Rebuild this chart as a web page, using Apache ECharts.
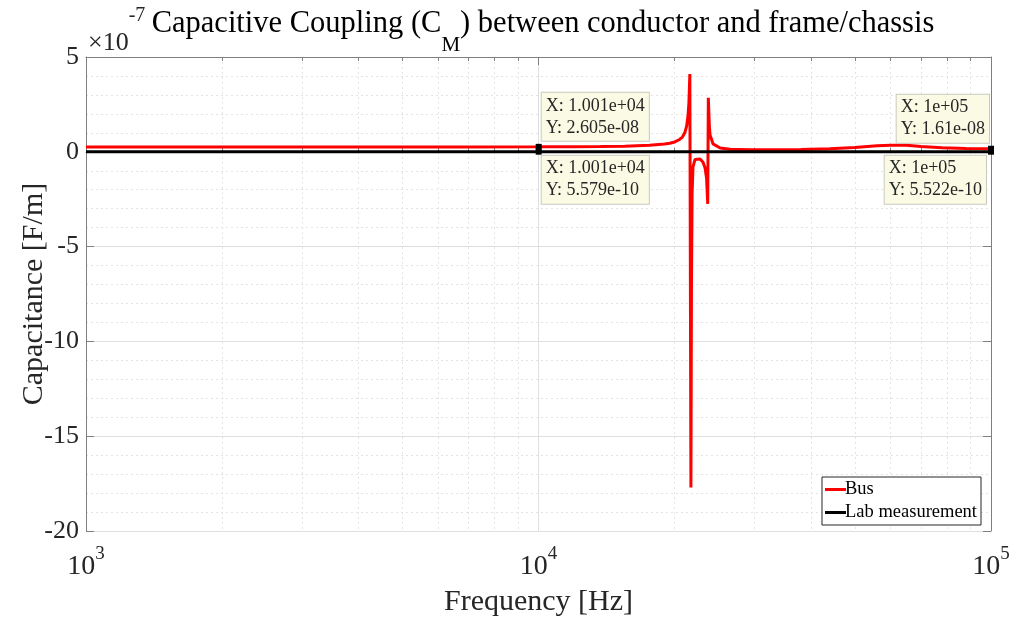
<!DOCTYPE html>
<html>
<head>
<meta charset="utf-8">
<script src="https://cdn.jsdelivr.net/npm/echarts@6/dist/echarts.min.js"></script>
<style>
  html, body { margin: 0; padding: 0; background: #fff; }
  #chart { width: 1013px; height: 619px; }
</style>
</head>
<body>
<div id="chart"></div>
<script>
// Bus model: coupling capacitance C_M (F/m) versus frequency (Hz)
const busFreq = [1000, 1500, 2000, 3000, 5000, 7000, 10010, 12000, 13700, 15500,
  17600, 19000, 19500, 20000, 20500, 20800, 21050, 21250, 21400, 21500,
  21600, 21720, 21780, 21850, 21950, 22180, 22400, 22750, 23100, 23340,
  23520, 23660, 23730, 23850, 23930, 24300, 25200, 26500, 29300, 33000,
  38000, 44000, 50000, 56000, 60000, 65000, 70000, 78000, 88000, 100000];
const busCap = [2.50e-8, 2.51e-8, 2.52e-8, 2.53e-8, 2.55e-8, 2.57e-8, 2.605e-8, 2.68e-8, 2.78e-8, 2.98e-8,
  3.45e-8, 4.1e-8, 4.5e-8, 5.2e-8, 6.5e-8, 7.8e-8, 1.0e-7, 1.35e-7, 1.9e-7, 2.6e-7,
  4.1e-7, -1.77e-6, -7.0e-7, -2.2e-7, -8.0e-8, -4.0e-8, -3.4e-8, -3.8e-8, -5.5e-8, -8.5e-8,
  -1.4e-7, -2.75e-7, 2.85e-7, 1.4e-7, 9.0e-8, 4.2e-8, 2.0e-8, 1.4e-8, 1.1e-8, 1.05e-8,
  1.2e-8, 1.6e-8, 2.3e-8, 3.2e-8, 3.5e-8, 3.4e-8, 2.8e-8, 2.1e-8, 1.75e-8, 1.61e-8];

// Lab measurement
const labFreq = [1000, 2000, 5000, 10010, 20000, 50000, 100000];
const labCap = [5.60e-10, 5.59e-10, 5.585e-10, 5.579e-10, 5.56e-10, 5.54e-10, 5.522e-10];

// Frequencies carrying a data tip
const tipFreq = [10010, 100000];

// Axis ticks
const xMajorTicks = [1000, 10000, 100000];
const xMinorTicks = [2000, 3000, 4000, 5000, 6000, 7000, 8000, 9000,
  20000, 30000, 40000, 50000, 60000, 70000, 80000, 90000];
const yMin = -2e-6, yMax = 5e-7, yStep = 5e-7, yScale = 1e-7;

const FONT = 'Liberation Serif';
const TXT = '#262626';
const AXC = '#7f7f7f';

// MATLAB-like %.4g
function g4(v) {
  const e = Math.floor(Math.log10(Math.abs(v)));
  if (e < -4 || e >= 4) {
    let [m, ex] = v.toExponential(3).split('e');
    if (m.indexOf('.') >= 0) m = m.replace(/0+$/, '').replace(/\.$/, '');
    const sign = ex[0] === '-' ? '-' : '+';
    let d = ex.replace(/^[+-]/, '');
    if (d.length < 2) d = '0' + d;
    return m + 'e' + sign + d;
  }
  return String(parseFloat(v.toPrecision(4)));
}

function pairs(xs, ys) { return xs.map((x, i) => [x, ys[i]]); }

// Data tips at the chosen frequencies
function tips(xs, ys, places) {
  return tipFreq.map((f, k) => {
    const i = xs.indexOf(f);
    const p = places[k];
    return {
      coord: [xs[i], ys[i]],
      label: { position: p.pos, align: p.align, verticalAlign: p.va,
        formatter: '{a|X: ' + g4(xs[i]) + '}\n{a|Y: ' + g4(ys[i]) + '}' }
    };
  });
}

const tipLabel = {
  show: true, fontFamily: FONT, fontSize: 18, lineHeight: 22, color: TXT,
  backgroundColor: '#fbfbe5', borderColor: '#c9c9c0', borderWidth: 1,
  padding: [2, 4, 2, 4],
  rich: { a: { fontFamily: FONT, fontSize: 18, lineHeight: 22, color: TXT, align: 'left' } }
};

const chart = echarts.init(document.getElementById('chart'));

const xBase = { type: 'log', logBase: 10, min: 1000, max: 100000, gridIndex: 0 };
const yBase = { type: 'value', min: yMin, max: yMax, interval: yStep };

chart.setOption({
  animation: false,
  backgroundColor: '#ffffff',
  title: {
    text: '{t|Capacitive Coupling (C}{s|M}{t|) between conductor and frame/chassis}',
    left: 538, top: 3, textAlign: 'center',
    textStyle: {
      fontWeight: 'normal',
      rich: {
        t: { fontFamily: FONT, fontSize: 30.5, fontWeight: 'normal', color: '#000', lineHeight: 32, verticalAlign: 'top' },
        s: { fontFamily: FONT, fontSize: 21, fontWeight: 'normal', color: '#000', lineHeight: 48, verticalAlign: 'bottom' }
      }
    }
  },
  graphic: [{
    type: 'text', left: 88, top: 6, z: 10,
    style: {
      text: '{a|×10}{b|-7}',
      rich: {
        a: { fontFamily: FONT, fontSize: 26, fill: TXT, lineHeight: 50, verticalAlign: 'bottom' },
        b: { fontFamily: FONT, fontSize: 20, fill: TXT, lineHeight: 40, verticalAlign: 'top' }
      }
    }
  }],
  grid: { left: 86, right: 22, top: 57, bottom: 88, containLabel: false, outerBoundsMode: 'none' },
  legend: {
    orient: 'vertical', right: 32, top: 477,
    backgroundColor: '#fff', borderColor: '#262626', borderWidth: 1,
    padding: [3, 4, 3, 3], itemGap: 4, itemWidth: 21, itemHeight: 3,
    textStyle: { fontFamily: FONT, fontSize: 18.5, color: '#000', padding: [0, 0, 0, -6] },
    data: [{ name: 'Bus', icon: 'rect' }, { name: 'Lab measurement', icon: 'rect' }]
  },
  xAxis: [
    Object.assign({}, xBase, {
      position: 'bottom',
      name: 'Frequency [Hz]', nameLocation: 'middle', nameGap: 56,
      nameTextStyle: { fontFamily: FONT, fontSize: 30, color: TXT },
      axisLine: { show: true, lineStyle: { color: AXC, width: 1 } },
      axisTick: { show: true, inside: true, length: 8, customValues: xMajorTicks, lineStyle: { color: AXC } },
      axisLabel: {
        show: true, customValues: xMajorTicks, margin: 14,
        formatter: v => '{m|10}{e|' + Math.round(Math.log10(v)) + '}',
        rich: {
          m: { fontFamily: FONT, fontSize: 28, color: TXT, lineHeight: 36, verticalAlign: 'bottom' },
          e: { fontFamily: FONT, fontSize: 19, color: TXT, lineHeight: 28, verticalAlign: 'top' }
        }
      },
      splitLine: { show: true, lineStyle: { color: '#dfdfdf', width: 1 } }
    }),
    Object.assign({}, xBase, {
      position: 'bottom',
      axisLine: { show: false },
      axisTick: { show: true, inside: true, length: 4, customValues: xMinorTicks, lineStyle: { color: AXC } },
      axisLabel: { show: false },
      splitLine: { show: true, lineStyle: { color: '#e4e4e4', width: 1, type: [2, 3] } }
    }),
    Object.assign({}, xBase, {
      position: 'top',
      axisLine: { show: true, lineStyle: { color: AXC, width: 1 } },
      axisTick: { show: true, inside: true, length: 8, customValues: xMajorTicks, lineStyle: { color: AXC } },
      axisLabel: { show: false }, splitLine: { show: false }
    }),
    Object.assign({}, xBase, {
      position: 'top',
      axisLine: { show: false },
      axisTick: { show: true, inside: true, length: 4, customValues: xMinorTicks, lineStyle: { color: AXC } },
      axisLabel: { show: false }, splitLine: { show: false }
    })
  ],
  yAxis: [
    Object.assign({}, yBase, {
      position: 'left',
      name: 'Capacitance [F/m]', nameLocation: 'middle', nameGap: 37, nameRotate: 90,
      nameMoveOverlap: false,
      nameTextStyle: { fontFamily: FONT, fontSize: 30, color: TXT },
      axisLine: { show: true, lineStyle: { color: AXC, width: 1 } },
      axisTick: { show: true, inside: true, length: 8, lineStyle: { color: AXC } },
      axisLabel: {
        fontFamily: FONT, fontSize: 26, color: TXT, margin: 7,
        formatter: v => String(Math.round(v / yScale))
      },
      splitLine: { show: true, lineStyle: { color: '#dfdfdf', width: 1 } },
      minorTick: { show: false, splitNumber: 5 },
      minorSplitLine: { show: true, lineStyle: { color: '#e4e4e4', width: 1, type: [2, 3] } }
    }),
    Object.assign({}, yBase, {
      position: 'right',
      axisLine: { show: true, lineStyle: { color: AXC, width: 1 } },
      axisTick: { show: true, inside: true, length: 8, lineStyle: { color: AXC } },
      axisLabel: { show: false }, splitLine: { show: false }
    })
  ],
  series: [
    {
      name: 'Bus', type: 'line', xAxisIndex: 0, yAxisIndex: 0,
      data: pairs(busFreq, busCap), showSymbol: false, symbol: 'none',
      smooth: false, sampling: null,
      lineStyle: { color: '#ff0000', width: 3 }, itemStyle: { color: '#ff0000' },
      markPoint: {
        symbol: 'rect', symbolSize: 6, itemStyle: { color: '#000' },
        label: tipLabel,
        data: tips(busFreq, busCap, [
          { pos: [6, -3], align: 'left', va: 'bottom' },
          { pos: [1, -3], align: 'right', va: 'bottom' }
        ])
      }
    },
    {
      name: 'Lab measurement', type: 'line', xAxisIndex: 0, yAxisIndex: 0,
      data: pairs(labFreq, labCap), showSymbol: false, symbol: 'none',
      lineStyle: { color: '#000000', width: 3 }, itemStyle: { color: '#000000' },
      markPoint: {
        symbol: 'rect', symbolSize: 6, itemStyle: { color: '#000' },
        label: tipLabel,
        data: tips(labFreq, labCap, [
          { pos: [6, 7], align: 'left', va: 'top' },
          { pos: [-2, 7], align: 'right', va: 'top' }
        ])
      }
    }
  ]
});
</script>
</body>
</html>
